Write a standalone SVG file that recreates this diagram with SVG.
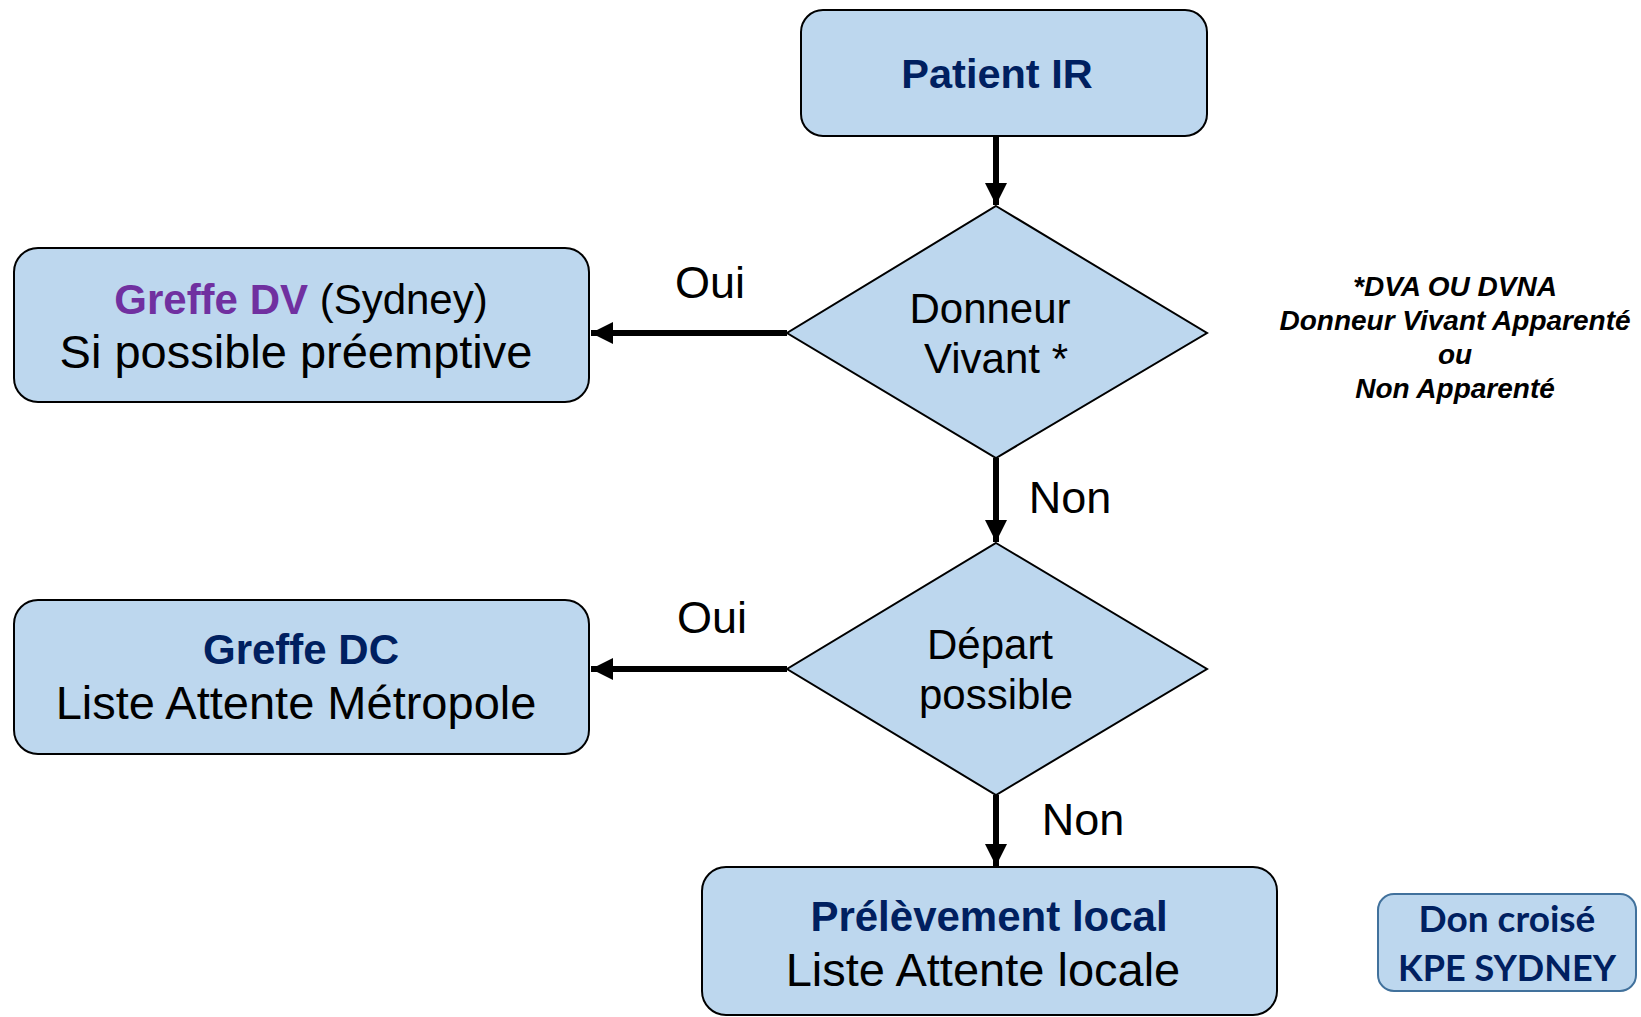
<svg xmlns="http://www.w3.org/2000/svg" width="1641" height="1017" viewBox="0 0 1641 1017">
<style>
.box{fill:#bdd7ee;stroke:#000;stroke-width:2}
.t{font-family:"Liberation Sans",Arial,sans-serif;text-anchor:middle;fill:#000}
.h{font-weight:bold;fill:#002060;font-size:42px}
.r{font-size:47px}
.d{font-size:42px}
.lbl{font-family:"Liberation Sans",Arial,sans-serif;font-size:45px;fill:#000}
.note{font-family:"Liberation Sans",Arial,sans-serif;font-size:28px;font-weight:bold;font-style:italic;text-anchor:middle;fill:#000}
.conn{stroke:#000;stroke-width:6;fill:none;marker-end:url(#ah)}
</style>
<defs>
<marker id="ah" markerUnits="userSpaceOnUse" markerWidth="22" markerHeight="22" refX="20" refY="10" orient="auto" viewBox="0 0 20 20">
<path d="M0,0 L20,10 L0,20 z" fill="#000"/>
</marker>
</defs>
<rect width="1641" height="1017" fill="#fff"/>
<g id="connectors">
<line class="conn" x1="996" y1="136" x2="996" y2="205"/>
<line class="conn" x1="787" y1="333" x2="591" y2="333"/>
<line class="conn" x1="996" y1="458" x2="996" y2="542"/>
<line class="conn" x1="787" y1="669" x2="591" y2="669"/>
<line class="conn" x1="996" y1="795" x2="996" y2="866"/>
<text class="lbl" x="710" y="298" text-anchor="middle">Oui</text>
<text class="lbl" x="1070" y="513" text-anchor="middle">Non</text>
<text class="lbl" x="712" y="633" text-anchor="middle">Oui</text>
<text class="lbl" x="1083" y="835" text-anchor="middle">Non</text>
</g>
<g id="patient">
<rect class="box" x="801" y="10" width="406" height="126" rx="22"/>
<text class="t h" x="997" y="88" style="font-size:41.5px">Patient IR</text>
</g>
<g id="donneur">
<polygon class="box" points="996,206 1207,333 996,458 787,333"/>
<text class="t d" x="990" y="323">Donneur</text>
<text class="t d" x="996" y="373">Vivant *</text>
</g>
<g id="greffe-dv">
<rect class="box" x="14" y="248" width="575" height="154" rx="24"/>
<text class="t" x="301" y="314" style="font-size:42px"><tspan font-weight="bold" fill="#7030a0">Greffe DV</tspan> (Sydney)</text>
<text class="t r" x="296" y="368">Si possible préemptive</text>
</g>
<g id="depart">
<polygon class="box" points="996,543 1207,669 996,795 787,669"/>
<text class="t d" x="990" y="659">Départ</text>
<text class="t d" x="996" y="709">possible</text>
</g>
<g id="greffe-dc">
<rect class="box" x="14" y="600" width="575" height="154" rx="24"/>
<text class="t h" x="301" y="664">Greffe DC</text>
<text class="t r" x="296" y="719">Liste Attente Métropole</text>
</g>
<g id="prelevement">
<rect class="box" x="702" y="867" width="575" height="148" rx="24"/>
<text class="t h" x="989" y="931">Prélèvement local</text>
<text class="t r" x="983" y="986">Liste Attente locale</text>
</g>
<g id="note">
<text class="note" x="1455" y="296">*DVA OU DVNA</text>
<text class="note" x="1455" y="330">Donneur Vivant Apparenté</text>
<text class="note" x="1455" y="364">ou</text>
<text class="note" x="1455" y="398">Non Apparenté</text>
</g>
<g id="don-croise">
<rect x="1378" y="894" width="258" height="97" rx="16" fill="#bdd7ee" stroke="#41719c" stroke-width="2"/>
<text x="1507" y="932" text-anchor="middle" font-family="Lato,'Open Sans',sans-serif" font-weight="bold" font-size="37" fill="#002060">Don croisé</text>
<text x="1507" y="981" text-anchor="middle" font-family="Lato,'Open Sans',sans-serif" font-weight="bold" font-size="36" fill="#002060">KPE SYDNEY</text>
</g>
</svg>
